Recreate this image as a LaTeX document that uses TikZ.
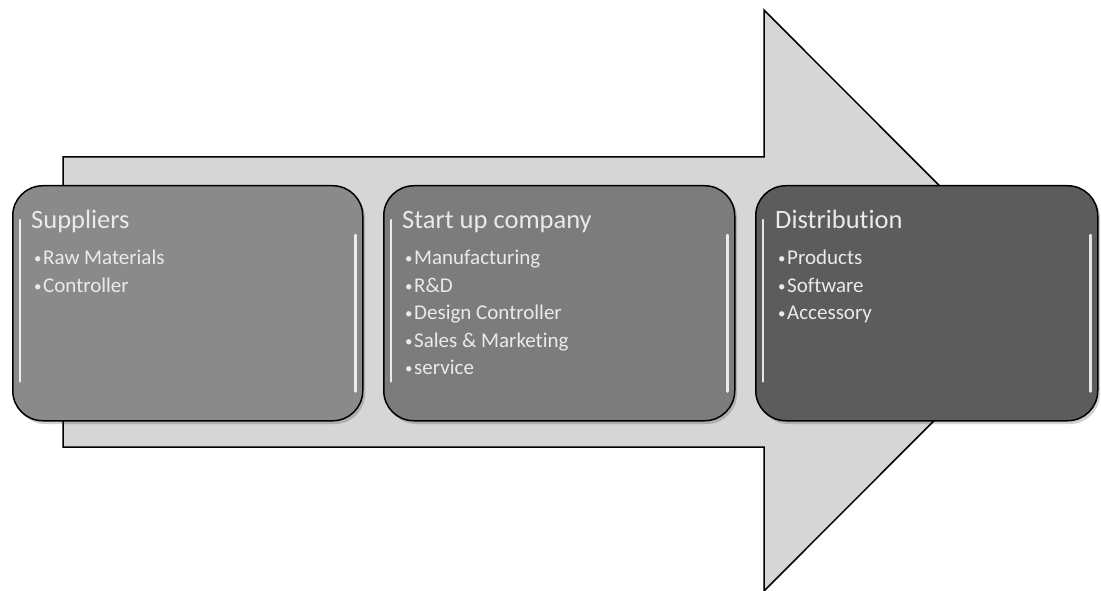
\documentclass[tikz,border=0pt]{standalone}
\usepackage{fontspec}
\setmainfont[Ligatures=NoCommon]{Carlito}
\definecolor{arrowfill}{HTML}{D6D6D6}
\definecolor{boxa}{HTML}{8A8A8A}
\definecolor{boxb}{HTML}{7C7C7C}
\definecolor{boxc}{HTML}{5C5C5C}
\definecolor{txt}{HTML}{EAEAEA}
\newcommand{\bul}{{\fontsize{15}{15}\selectfont\raisebox{1pt}{•}}\kern1.5pt}
\tikzset{
  stagebox/.style={draw=black, line width=1.5pt, rounded corners=30pt, minimum width=350pt, minimum height=235pt, inner sep=0pt, anchor=north west},
  title/.style={anchor=base west, inner sep=0pt, text=txt, font=\fontsize{26.5}{30}\selectfont},
  item/.style={anchor=base west, inner sep=0pt, text=txt, font=\fontsize{21}{25}\selectfont},
  gloss/.style={draw=white, line width=2.5pt, line cap=round, opacity=0.85}
}
\begin{document}
\begin{tikzpicture}[x=1pt,y=-1pt]
\useasboundingbox (0,0) rectangle (1101,591);
% big arrow
\draw[fill=arrowfill, line width=1.5pt, line join=miter]
  (63,157) -- (764,157) -- (764,10) -- (1054,300.5) -- (764,591) -- (764,447) -- (63,447) -- cycle;
% shadows
\foreach \x/\w in {12/350,383/351,755/342}{
  \fill[black, opacity=0.18, rounded corners=30pt] (\x+3,188) rectangle (\x+\w+3,424);
}
% boxes
\node[stagebox, fill=boxa] (b1) at (12,185) {};
\node[stagebox, fill=boxb, minimum width=351pt] (b2) at (383,185) {};
\node[stagebox, fill=boxc, minimum width=342pt] (b3) at (755,185) {};
% gloss highlights
\draw[gloss] ([xshift=8pt,yshift=-35pt]b1.north west) -- ([xshift=8pt,yshift=40pt]b1.south west);
\draw[gloss] ([xshift=-8pt,yshift=-50pt]b1.north east) -- ([xshift=-8pt,yshift=30pt]b1.south east);
\draw[gloss] ([xshift=8pt,yshift=-35pt]b2.north west) -- ([xshift=8pt,yshift=40pt]b2.south west);
\draw[gloss] ([xshift=-8pt,yshift=-50pt]b2.north east) -- ([xshift=-8pt,yshift=30pt]b2.south east);
\draw[gloss] ([xshift=8pt,yshift=-35pt]b3.north west) -- ([xshift=8pt,yshift=40pt]b3.south west);
\draw[gloss] ([xshift=-8pt,yshift=-50pt]b3.north east) -- ([xshift=-8pt,yshift=30pt]b3.south east);
% texts box 1
\node[title] (t1) at (31,229) {Suppliers};
\node[item] (t1a) at (34,264) {\bul Raw Materials};
\node[item] (t1b) at (34,292) {\bul Controller};
% texts box 2
\node[title] (t2) at (402,229) {Start up company};
\node[item] (t2a) at (405,264) {\bul Manufacturing};
\node[item] (t2b) at (405,292) {\bul R\&D};
\node[item] (t2c) at (405,319) {\bul Design Controller};
\node[item] (t2d) at (405,347) {\bul Sales \& Marketing};
\node[item] (t2e) at (405,374) {\bul service};
% texts box 3
\node[title] (t3) at (775,228) {Distribution};
\node[item] (t3a) at (778,264) {\bul Products};
\node[item] (t3b) at (778,292) {\bul Software};
\node[item] (t3c) at (778,319) {\bul Accessory};
\end{tikzpicture}
\end{document}
